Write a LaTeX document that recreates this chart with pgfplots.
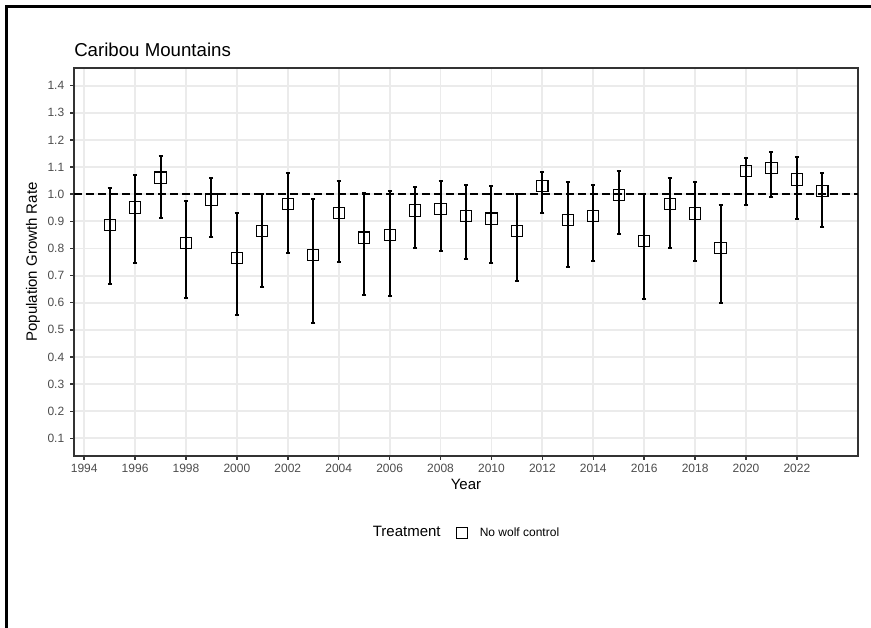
\documentclass[border=0pt]{standalone}
\usepackage{pgfplots}
\usepackage{pgfplotstable}
\pgfplotsset{compat=1.18}
\usepackage{fontspec}
\setmainfont{Liberation Sans}
\definecolor{gridc}{HTML}{EBEBEB}
\definecolor{tickc}{HTML}{4D4D4D}
\definecolor{framec}{HTML}{333333}

\pgfplotstableread{
year y lo hi
1995 0.887 0.669 1.024
1996 0.951 0.747 1.071
1997 1.061 0.912 1.140
1998 0.821 0.619 0.975
1999 0.980 0.842 1.059
2000 0.766 0.556 0.932
2001 0.865 0.657 1.000
2002 0.963 0.782 1.078
2003 0.776 0.526 0.982
2004 0.931 0.751 1.049
2005 0.840 0.630 1.005
2006 0.850 0.625 1.010
2007 0.940 0.800 1.025
2008 0.945 0.790 1.050
2009 0.920 0.760 1.035
2010 0.910 0.745 1.030
2011 0.865 0.680 1.000
2012 1.030 0.930 1.080
2013 0.905 0.730 1.045
2014 0.920 0.755 1.035
2015 0.997 0.855 1.086
2016 0.828 0.615 1.000
2017 0.965 0.801 1.059
2018 0.929 0.755 1.046
2019 0.801 0.600 0.961
2020 1.086 0.961 1.135
2021 1.097 0.988 1.157
2022 1.054 0.907 1.137
2023 1.012 0.880 1.078
}\datatable

\begin{document}
\begin{tikzpicture}
\useasboundingbox (0pt,0pt) rectangle (653.25pt,-471pt);
\fill[white] (0pt,0pt) rectangle (653.25pt,-471pt);
\draw[line width=2.3pt, line join=miter] (4.6pt,-471pt) -- (4.6pt,-4.6pt) -- (653.25pt,-4.6pt);
\node[anchor=base west, font=\fontsize{14}{16}\selectfont, inner sep=0pt] at (55.5pt,-42pt) {Caribou Mountains};
\begin{axis}[
  at={(55.5pt,-342pt)}, anchor=south west,
  width=588pt, height=291pt, scale only axis,
  xmin=1993.6, xmax=2024.4, ymin=0.035, ymax=1.465,
  xtick={1994,1996,1998,2000,2002,2004,2006,2008,2010,2012,2014,2016,2018,2020,2022},
  ytick={0.1,0.2,0.3,0.4,0.5,0.6,0.7,0.8,0.9,1.0,1.1,1.2,1.3,1.4},
  minor tick num=0,
  grid=major,
  major grid style={gridc, line width=1.4pt},
  axis line style={framec, line width=1.1pt},
  tick align=outside, major tick length=2.8pt,
  tick style={framec, line width=1.1pt},
  xtick pos=bottom, ytick pos=left,
  /pgf/number format/assume math mode=true,
  ticklabel style={font=\fontsize{9}{10}\selectfont, text=tickc},
  xticklabel style={/pgf/number format/set thousands separator={}, /pgf/number format/fixed},
  yticklabel style={/pgf/number format/fixed, /pgf/number format/fixed zerofill, /pgf/number format/precision=1, xshift=-1pt},
  xlabel={Year},
  xlabel style={font=\fontsize{11.25}{13}\selectfont, at={(axis description cs:0.5,-0.072)}, anchor=center},
  ylabel={Population Growth Rate},
  ylabel style={font=\fontsize{11.25}{13}\selectfont, at={(axis description cs:-0.0523,0.5)}, anchor=center, rotate=0},
  legend style={at={(axis description cs:0.5,-0.198)}, anchor=center, draw=none, fill=none,
    legend columns=2, font=\fontsize{9}{11}\selectfont,
    /tikz/every even column/.append style={column sep=10pt}},
  legend cell align=left,
  clip=false,
]
\addlegendimage{empty legend}
\addlegendentry{\fontsize{11.25}{13}\selectfont Treatment}
\addplot[black, line width=1.5pt, dash pattern=on 6pt off 3pt, forget plot] coordinates {(1993.6,1) (2024.4,1)};
\addplot[only marks, mark=square, mark size=4.2pt, mark options={black, line width=0.8pt, fill=none},
  error bars/.cd, y dir=both, y explicit,
  error bar style={black, line width=1.5pt},
  error mark options={black, line width=1.5pt, mark size=1.5pt, rotate=90}]
  table[x=year, y=y, y error plus expr=\thisrow{hi}-\thisrow{y}, y error minus expr=\thisrow{y}-\thisrow{lo}] {\datatable};
\addlegendentry{\hspace*{7pt}No wolf control}
\end{axis}
\end{tikzpicture}
\end{document}
